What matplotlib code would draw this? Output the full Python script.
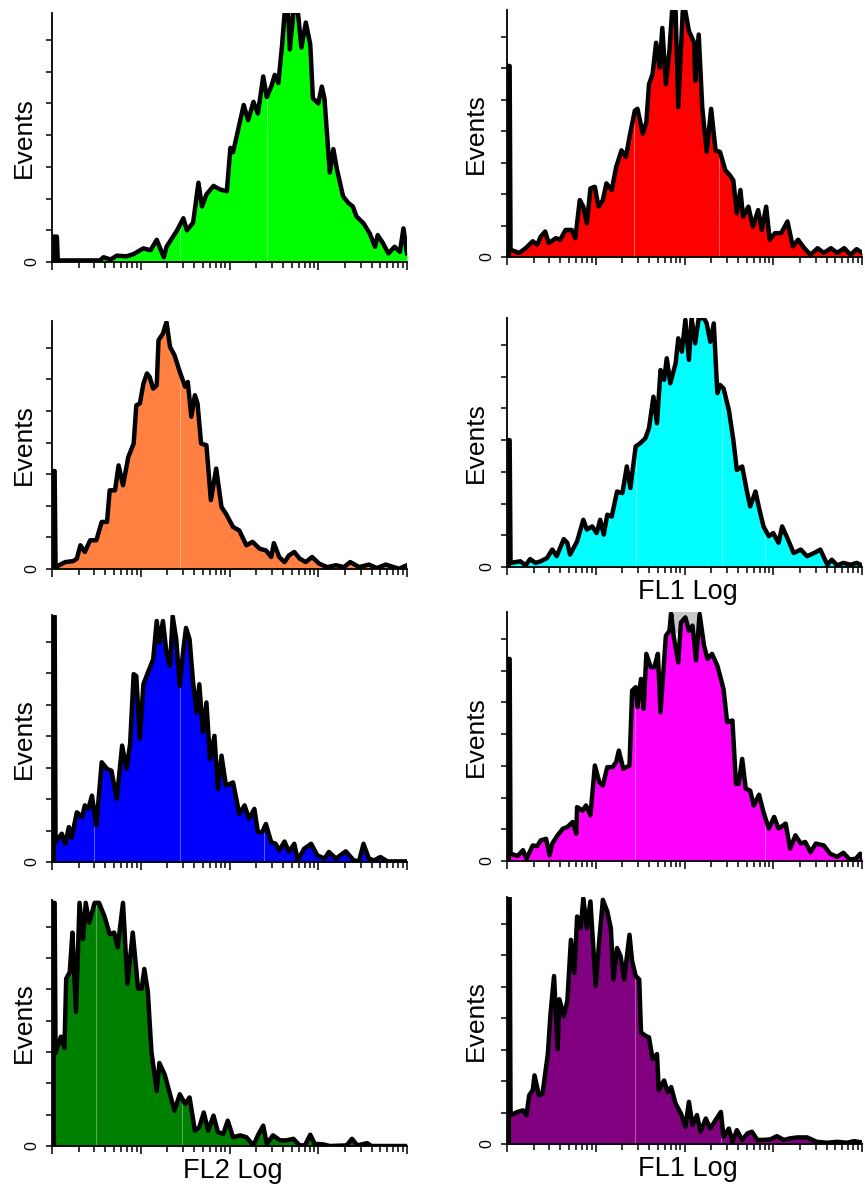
import numpy as np
import matplotlib as mpl
mpl.use('Agg')
import matplotlib.pyplot as plt
from matplotlib.ticker import LogLocator, NullFormatter

plt.rcParams['font.family'] = ['Liberation Sans', 'DejaVu Sans']

# channel positions in decades (log10 of FL intensity), events in tick units
green_x = [0, 0.055, 0.065, 0.54, 0.58, 0.66, 0.73, 0.84, 0.92, 1.03, 1.11, 1.18, 1.26, 1.29, 1.41, 1.48, 1.52, 1.59, 1.65, 1.69,
           1.74, 1.82, 1.89, 1.97, 2.01, 2.04, 2.10, 2.16, 2.21, 2.27, 2.32, 2.38, 2.42, 2.47, 2.51, 2.55, 2.59, 2.62, 2.66, 2.68,
           2.72, 2.77, 2.81, 2.86, 2.91, 2.94, 3.00, 3.04, 3.07, 3.13, 3.17, 3.21, 3.28, 3.34, 3.39, 3.43, 3.51, 3.58, 3.64, 3.67,
           3.73, 3.79, 3.86, 3.92, 3.96, 4.0]
green_y = [0.8, 0.8, 0.05, 0.05, 0.15, 0.08, 0.2, 0.18, 0.25, 0.43, 0.37, 0.7, 0.15, 0.48, 1.0, 1.38, 1.0, 1.24, 2.5, 1.75,
           2.13, 2.4, 2.29, 2.23, 3.6, 3.46, 4.2, 4.95, 4.47, 5.05, 4.68, 5.85, 5.2, 5.53, 5.9, 5.64, 6.76, 7.82, 7.9, 6.7,
           7.87, 7.9, 6.76, 7.55, 6.86, 5.16, 5.0, 5.53, 5.16, 2.82, 3.56, 2.93, 2.07, 1.86, 1.75, 1.44, 1.22, 0.9, 0.48, 0.85,
           0.59, 0.27, 0.48, 0.32, 1.06, 0.27]

red_x = [0, 0.03, 0.04, 0.137, 0.21, 0.29, 0.34, 0.38, 0.43, 0.47, 0.55, 0.60, 0.66, 0.73, 0.77, 0.82, 0.86, 0.90, 0.94, 0.99,
         1.03, 1.08, 1.12, 1.18, 1.23, 1.29, 1.34, 1.38, 1.44, 1.47, 1.53, 1.57, 1.60, 1.64, 1.68, 1.72, 1.75, 1.79, 1.83, 1.86,
         1.90, 1.93, 1.98, 2.01, 2.05, 2.11, 2.12, 2.16, 2.20, 2.25, 2.30, 2.35, 2.40, 2.46, 2.51, 2.55, 2.59, 2.63, 2.66, 2.72,
         2.77, 2.83, 2.87, 2.92, 2.96, 3.02, 3.09, 3.16, 3.22, 3.28, 3.35, 3.42, 3.50, 3.57, 3.65, 3.72, 3.80, 3.87, 3.94, 4.0]
red_y = [6.07, 6.07, 0.23, 0.13, 0.28, 0.5, 0.39, 0.65, 0.81, 0.44, 0.6, 0.55, 0.86, 0.86, 0.6, 1.81, 1.6, 1.07, 2.18, 2.23,
         1.6, 1.81, 2.34, 2.13, 2.86, 3.39, 3.18, 3.81, 4.65, 4.71, 3.92, 4.28, 5.49, 5.81, 6.81, 6.02, 7.28, 5.49, 6.55, 7.81,
         7.81, 4.76, 7.81, 7.81, 7.18, 6.81, 5.6, 7.07, 4.76, 3.34, 4.71, 3.39, 3.34, 2.76, 2.6, 2.44, 1.39, 2.13, 1.28, 1.6,
         0.97, 1.49, 0.86, 1.6, 0.55, 0.76, 0.76, 1.13, 0.34, 0.55, 0.28, 0.07, 0.28, 0.13, 0.28, 0.13, 0.28, 0.07, 0.25, 0.13]

orange_x = [0, 0.03, 0.04, 0.15, 0.24, 0.28, 0.32, 0.37, 0.43, 0.50, 0.56, 0.62, 0.65, 0.71, 0.75, 0.80, 0.86, 0.92, 0.95, 0.99,
            1.03, 1.07, 1.10, 1.14, 1.18, 1.20, 1.25, 1.29, 1.33, 1.38, 1.44, 1.50, 1.53, 1.57, 1.61, 1.64, 1.68, 1.74, 1.79, 1.85,
            1.91, 1.96, 2.04, 2.11, 2.19, 2.26, 2.34, 2.41, 2.47, 2.50, 2.56, 2.62, 2.67, 2.73, 2.79, 2.86, 2.93, 3.01, 3.10, 3.20,
            3.29, 3.36, 3.46, 3.57, 3.66, 3.76, 3.85, 3.91, 4.0]
orange_y = [3.1, 3.1, 0.06, 0.22, 0.25, 0.33, 0.75, 0.54, 0.91, 0.91, 1.49, 1.49, 2.49, 2.49, 3.28, 2.65, 3.55, 3.97, 5.18, 5.24,
            5.87, 6.19, 6.08, 5.71, 5.82, 7.24, 7.45, 7.82, 7.03, 6.77, 6.24, 5.77, 5.92, 4.82, 5.5, 5.24, 3.97, 3.92, 2.18, 3.18,
            1.96, 1.75, 1.33, 1.22, 0.75, 0.86, 0.64, 0.59, 0.38, 0.82, 0.38, 0.22, 0.43, 0.54, 0.33, 0.22, 0.38, 0.17, 0.06, 0.12,
            0.06, 0.22, 0.06, 0.14, 0.03, 0.14, 0.06, 0.01, 0.12]

cyan_x = [0, 0.03, 0.04, 0.15, 0.21, 0.26, 0.32, 0.38, 0.45, 0.51, 0.56, 0.64, 0.68, 0.71, 0.79, 0.86, 0.90, 0.96, 1.01, 1.05,
          1.09, 1.13, 1.18, 1.24, 1.30, 1.35, 1.39, 1.45, 1.50, 1.56, 1.60, 1.65, 1.69, 1.73, 1.77, 1.80, 1.84, 1.90, 1.93, 1.97,
          2.01, 2.05, 2.08, 2.12, 2.16, 2.22, 2.25, 2.29, 2.33, 2.37, 2.40, 2.44, 2.50, 2.55, 2.59, 2.65, 2.70, 2.74, 2.80, 2.84,
          2.89, 2.95, 3.00, 3.06, 3.10, 3.15, 3.23, 3.31, 3.38, 3.46, 3.53, 3.61, 3.66, 3.72, 3.79, 3.87, 3.94, 4.0]
cyan_y = [4.0, 4.0, 0.13, 0.18, 0.05, 0.25, 0.13, 0.18, 0.28, 0.55, 0.34, 0.88, 0.76, 0.39, 0.81, 1.49, 1.18, 1.28, 1.07, 1.49,
          1.02, 1.65, 1.59, 2.38, 2.33, 3.17, 2.49, 3.8, 3.9, 4.06, 4.38, 5.37, 4.53, 6.21, 5.9, 6.58, 5.79, 6.42, 7.21, 6.79,
          7.79, 6.53, 7.84, 7.05, 7.84, 7.84, 7.68, 7.1, 7.68, 5.48, 5.74, 5.63, 4.95, 4.01, 3.06, 3.17, 2.43, 1.91, 2.38, 1.86,
          1.28, 0.97, 1.07, 0.76, 1.28, 0.97, 0.44, 0.55, 0.34, 0.44, 0.55, 0.07, 0.23, 0.05, 0.13, 0.07, 0.13, 0.05]

blue_x = [0, 0.03, 0.04, 0.11, 0.15, 0.19, 0.22, 0.28, 0.34, 0.37, 0.41, 0.45, 0.50, 0.56, 0.62, 0.67, 0.73, 0.79, 0.84, 0.88,
          0.92, 0.95, 0.99, 1.03, 1.08, 1.14, 1.18, 1.21, 1.25, 1.29, 1.33, 1.36, 1.40, 1.44, 1.48, 1.51, 1.55, 1.59, 1.63, 1.66,
          1.70, 1.74, 1.78, 1.83, 1.87, 1.91, 1.96, 2.04, 2.07, 2.11, 2.17, 2.22, 2.28, 2.32, 2.37, 2.41, 2.47, 2.52, 2.56, 2.62,
          2.67, 2.73, 2.77, 2.84, 2.92, 2.99, 3.07, 3.12, 3.20, 3.31, 3.40, 3.46, 3.51, 3.57, 3.63, 3.70, 3.78, 4.0]
blue_y = [7.81, 7.81, 0.63, 0.9, 0.58, 1.11, 0.76, 1.58, 1.43, 1.8, 1.69, 2.11, 1.16, 3.17, 2.96, 2.9, 2.0, 3.7, 2.96, 3.75,
          5.97, 5.91, 3.91, 5.65, 6.02, 6.44, 7.66, 6.97, 7.66, 6.65, 6.23, 7.81, 7.08, 5.6, 6.76, 7.44, 7.08, 5.7, 4.75, 5.65,
          4.12, 5.07, 3.27, 4.01, 2.32, 3.38, 2.43, 2.53, 2.11, 1.53, 1.8, 1.37, 1.69, 0.95, 0.95, 1.21, 0.63, 0.58, 0.37, 0.65,
          0.32, 0.58, 0.05, 0.42, 0.58, 0.21, 0.11, 0.32, 0.11, 0.34, 0.05, 0.03, 0.58, 0.11, 0.05, 0.16, 0.02, 0.02]

magenta_x = [0, 0.03, 0.04, 0.12, 0.18, 0.22, 0.29, 0.34, 0.38, 0.44, 0.48, 0.51, 0.57, 0.63, 0.68, 0.74, 0.78, 0.79, 0.85, 0.89,
             0.94, 0.99, 1.04, 1.08, 1.13, 1.19, 1.23, 1.26, 1.31, 1.38, 1.41, 1.45, 1.47, 1.51, 1.54, 1.57, 1.62, 1.66, 1.70, 1.73,
             1.79, 1.83, 1.85, 1.88, 1.93, 1.96, 2.01, 2.05, 2.09, 2.13, 2.17, 2.22, 2.26, 2.31, 2.37, 2.41, 2.44, 2.48, 2.54, 2.58,
             2.61, 2.65, 2.69, 2.74, 2.78, 2.84, 2.89, 2.95, 3.01, 3.06, 3.14, 3.19, 3.25, 3.31, 3.36, 3.42, 3.48, 3.57, 3.64, 3.72,
             3.79, 3.86, 3.93, 3.98, 4.0]
magenta_y = [6.37, 6.37, 0.23, 0.16, 0.34, 0.07, 0.49, 0.47, 0.65, 0.7, 0.18, 0.55, 0.81, 1.02, 1.07, 1.23, 0.86, 1.7, 1.59, 1.75,
             1.44, 3.01, 2.49, 2.38, 2.96, 2.96, 3.12, 3.48, 2.91, 3.01, 5.37, 5.48, 4.85, 5.74, 4.8, 6.53, 6.11, 6.11, 6.53, 4.69,
             7.1, 7.26, 7.79, 7.05, 6.26, 7.52, 7.68, 7.26, 7.42, 6.32, 7.79, 6.79, 6.37, 6.53, 6.16, 5.74, 5.42, 4.38, 4.43, 2.43,
             2.43, 3.22, 2.28, 2.22, 1.75, 2.09, 1.54, 1.02, 1.39, 1.02, 1.18, 0.39, 0.81, 0.55, 0.6, 0.28, 0.55, 0.49, 0.23, 0.13,
             0.26, 0.05, 0.07, 0.23, 0.07]

dkgreen_x = [0, 0.03, 0.04, 0.10, 0.14, 0.16, 0.20, 0.23, 0.27, 0.31, 0.35, 0.38, 0.42, 0.48, 0.53, 0.59, 0.65, 0.70, 0.74, 0.80,
             0.85, 0.91, 0.97, 1.01, 1.04, 1.08, 1.12, 1.18, 1.21, 1.27, 1.33, 1.38, 1.44, 1.50, 1.55, 1.61, 1.66, 1.71, 1.76, 1.82,
             1.87, 1.93, 1.98, 2.04, 2.12, 2.19, 2.27, 2.32, 2.38, 2.42, 2.49, 2.57, 2.64, 2.72, 2.79, 2.85, 2.91, 2.96, 3.06, 3.13,
             3.32, 3.38, 3.44, 3.55, 3.60, 4.0]
dkgreen_y = [7.76, 7.76, 2.97, 3.49, 3.13, 5.34, 5.55, 6.81, 4.28, 7.76, 6.6, 7.76, 7.13, 7.76, 7.76, 7.34, 6.76, 6.81, 6.34, 7.76,
             5.18, 6.81, 5.02, 5.02, 5.65, 4.92, 3.02, 1.76, 2.65, 2.28, 1.65, 1.13, 1.65, 1.34, 1.55, 0.49, 0.6, 1.07, 0.49, 0.97,
             0.44, 0.39, 0.81, 0.28, 0.34, 0.28, 0.02, 0.34, 0.65, 0.07, 0.34, 0.18, 0.18, 0.23, 0.02, 0.02, 0.36, 0.07, 0.05, 0.0,
             0.02, 0.23, 0.02, 0.09, 0.0, 0.0]

purple_x = [0, 0.03, 0.04, 0.12, 0.18, 0.22, 0.25, 0.29, 0.31, 0.36, 0.40, 0.46, 0.49, 0.53, 0.57, 0.59, 0.64, 0.68, 0.72, 0.76,
            0.79, 0.83, 0.86, 0.90, 0.94, 1.00, 1.04, 1.08, 1.13, 1.17, 1.20, 1.24, 1.28, 1.32, 1.38, 1.41, 1.45, 1.49, 1.51, 1.56,
            1.60, 1.64, 1.69, 1.71, 1.77, 1.81, 1.85, 1.90, 1.96, 2.01, 2.05, 2.09, 2.14, 2.18, 2.24, 2.29, 2.35, 2.41, 2.44, 2.50,
            2.54, 2.59, 2.65, 2.71, 2.76, 2.82, 2.89, 2.97, 3.04, 3.12, 3.19, 3.27, 3.38, 3.49, 3.61, 3.72, 3.83, 3.91, 4.0]
purple_y = [7.81, 7.81, 0.92, 1.02, 1.07, 0.92, 1.55, 1.71, 2.18, 1.55, 1.6, 2.86, 4.13, 5.34, 3.02, 4.6, 4.07, 4.55, 6.49, 5.44,
            7.23, 6.86, 7.81, 6.86, 7.71, 5.02, 6.49, 7.76, 7.39, 6.86, 5.23, 6.23, 5.97, 5.23, 6.65, 5.81, 5.34, 5.23, 3.55, 3.44,
            3.39, 2.71, 2.86, 1.71, 2.02, 1.65, 1.81, 1.28, 0.97, 0.55, 1.34, 0.6, 0.92, 0.39, 0.81, 0.49, 0.76, 1.02, 0.23, 0.49,
            0.07, 0.44, 0.13, 0.34, 0.39, 0.13, 0.13, 0.15, 0.25, 0.13, 0.18, 0.21, 0.21, 0.07, 0.04, 0.07, 0.04, 0.09, 0.05]

# faint gate lines inside the fills (decades)
green_gates = [1.44, 2.42]
red_gates = [1.43, 2.39]
orange_gates = [1.44]
cyan_gates = [1.45, 2.42, 2.91]
blue_gates = [0.47, 1.44, 2.39]
magenta_gates = [1.44, 2.91]
dkgreen_gates = [0.50, 1.47]
purple_gates = [1.44, 2.41]

W, H = 865, 1188
# (data x, data y, fill colour, gates, left px, top px, bottom px, xlabel)
panels = [
    (green_x, green_y, '#00ff00', green_gates, 52, 13, 262, None),
    (red_x, red_y, '#ff0000', red_gates, 507, 10, 257, None),
    (orange_x, orange_y, '#ff8040', orange_gates, 52, 321, 569, None),
    (cyan_x, cyan_y, '#00ffff', cyan_gates, 507, 318, 567, 'FL1 Log'),
    (blue_x, blue_y, '#0000ff', blue_gates, 52, 615, 862, None),
    (magenta_x, magenta_y, '#ff00ff', magenta_gates, 507, 612, 861, None),
    (dkgreen_x, dkgreen_y, '#008000', dkgreen_gates, 52, 900, 1146, 'FL2 Log'),
    (purple_x, purple_y, '#800080', purple_gates, 507, 897, 1144, 'FL1 Log'),
]

fig = plt.figure(figsize=(W/100, H/100), dpi=100)

for x, y, col, gates, l, t, b, xlab in panels:
    ax = fig.add_axes([l/W, 1-b/H, 355/W, (b-t)/H])
    x = np.array(x)
    y = np.array(y)
    xs = 10**x
    ax.fill_between(xs, y, 0, color=col, lw=0, zorder=1)
    # debris channel at the left edge is drawn solid black
    ax.fill_between(xs[:3], y[:3], 0, color='black', lw=0, zorder=2)
    g = np.array(gates)
    ax.vlines(10**g, 0, np.interp(g, x, y), color='white', alpha=0.35, lw=0.8, zorder=2)
    ax.plot(xs, y, color='black', lw=3.2, zorder=3, solid_joinstyle='round')
    if col == '#ff00ff':
        ax.axvspan(10**1.81, 10**2.14, ymin=7.2/7.85, ymax=1, color='#c8c8c8', lw=0, zorder=0)

    ax.set_xscale('log')
    ax.set_xlim(1, 1e4)
    ax.set_ylim(0, 7.85)
    ax.xaxis.set_major_locator(LogLocator(base=10, numticks=10))
    ax.xaxis.set_minor_locator(LogLocator(base=10, subs=np.arange(2, 10), numticks=50))
    ax.xaxis.set_major_formatter(NullFormatter())
    ax.xaxis.set_minor_formatter(NullFormatter())
    ax.tick_params(axis='x', which='major', length=6, width=1.1, direction='out')
    ax.tick_params(axis='x', which='minor', length=4, width=1.1, direction='out')

    ax.set_yticks(range(8))
    ax.set_yticklabels(['0'] + ['']*7, rotation=90, va='center', fontsize=11.5)
    ax.tick_params(axis='y', length=4, width=1.1, pad=5)

    for s in ['top', 'right']:
        ax.spines[s].set_visible(False)
    for s in ['left', 'bottom']:
        ax.spines[s].set_linewidth(1.3)

    lx = -28/355 if l < 400 else -31/355
    ax.text(lx, 0.5, 'Events', transform=ax.transAxes, rotation=90,
            ha='center', va='center', fontsize=19)
    if xlab:
        ax.text(0.51, -25/(b-t), xlab, transform=ax.transAxes,
                ha='center', va='center', fontsize=19.5)

fig.savefig('out.png', dpi=100)
